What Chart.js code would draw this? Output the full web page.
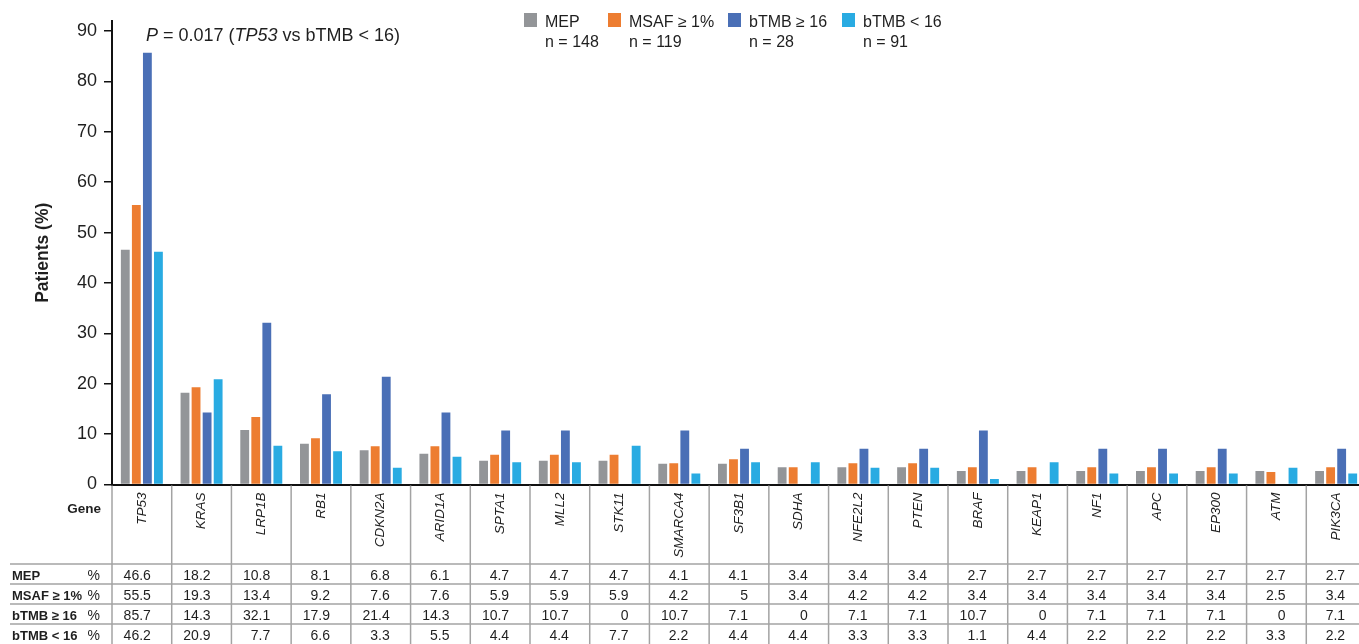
<!DOCTYPE html>
<html>
<head>
<meta charset="utf-8">
<script src="https://cdn.jsdelivr.net/npm/chart.js@4"></script>
<style>
  html, body { margin: 0; padding: 0; background: #fff; overflow: hidden; }
  canvas { display: block; }
</style>
</head>
<body>
<canvas id="geneChart" width="1366" height="644"></canvas>
<script>
const genes = ['TP53', 'KRAS', 'LRP1B', 'RB1', 'CDKN2A', 'ARID1A', 'SPTA1', 'MLL2', 'STK11', 'SMARCA4',
    'SF3B1', 'SDHA', 'NFE2L2', 'PTEN', 'BRAF', 'KEAP1', 'NF1', 'APC', 'EP300', 'ATM', 'PIK3CA'];

const mep      = [46.6, 18.2, 10.8, 8.1, 6.8, 6.1, 4.7, 4.7, 4.7, 4.1, 4.1, 3.4, 3.4, 3.4, 2.7, 2.7, 2.7, 2.7, 2.7, 2.7, 2.7];
const msaf     = [55.5, 19.3, 13.4, 9.2, 7.6, 7.6, 5.9, 5.9, 5.9, 4.2, 5, 3.4, 4.2, 4.2, 3.4, 3.4, 3.4, 3.4, 3.4, 2.5, 3.4];
const tmbHigh  = [85.7, 14.3, 32.1, 17.9, 21.4, 14.3, 10.7, 10.7, 0, 10.7, 7.1, 0, 7.1, 7.1, 10.7, 0, 7.1, 7.1, 7.1, 0, 7.1];
const tmbLow   = [46.2, 20.9, 7.7, 6.6, 3.3, 5.5, 4.4, 4.4, 7.7, 2.2, 4.4, 4.4, 3.3, 3.3, 1.1, 4.4, 2.2, 2.2, 2.2, 3.3, 2.2];

const seriesNames = ['MEP', 'MSAF \u2265 1%', 'bTMB \u2265 16', 'bTMB < 16'];
const seriesN     = ['n = 148', 'n = 119', 'n = 28', 'n = 91'];
const rowLabels   = ['MEP', 'MSAF \u2265 1%', 'bTMB \u2265 16', 'bTMB < 16'];
const yTicks      = [0, 10, 20, 30, 40, 50, 60, 70, 80, 90];

const colors = ['#939598', '#ED7D31', '#4A6FB6', '#29ABE2'];
const textColor = '#1f1f1f';
const FONT = '"Liberation Sans", Arial, sans-serif';

// legend with two-line labels, plus the p-value note
const headerPlugin = {
    id: 'header',
    afterDraw(chart) {
        const ctx = chart.ctx;
        const boxX = [524, 608, 728, 842];
        ctx.save();
        ctx.fillStyle = textColor;
        chart.data.datasets.forEach((ds, i) => {
            ctx.fillStyle = ds.backgroundColor;
            ctx.fillRect(boxX[i], 13, 13, 14);
            ctx.fillStyle = textColor;
            ctx.font = '16px ' + FONT;
            ctx.textAlign = 'left';
            ctx.textBaseline = 'alphabetic';
            ctx.fillText(ds.label, boxX[i] + 21, 27);
            ctx.fillText(seriesN[i], boxX[i] + 21, 47);
        });

        // P = 0.017 (TP53 vs bTMB < 16)
        const parts = [
            ['P', true], [' = 0.017 (', false], ['TP53', true], [' vs bTMB < 16)', false]
        ];
        let x = 146;
        parts.forEach(([txt, italic]) => {
            ctx.font = (italic ? 'italic ' : '') + '18px ' + FONT;
            ctx.fillText(txt, x, 41);
            x += ctx.measureText(txt).width;
        });
        ctx.restore();
    }
};

// data table under the x axis, columns follow the category scale
const tablePlugin = {
    id: 'geneTable',
    afterDraw(chart) {
        const ctx = chart.ctx;
        const xs = chart.scales.x;
        const area = chart.chartArea;
        const colW = (area.right - area.left) / genes.length;
        const firstRow = area.bottom + 79.5;
        const rowH = 20;
        const rows = [mep, msaf, tmbHigh, tmbLow];

        ctx.save();
        ctx.strokeStyle = '#a3a3a3';
        ctx.lineWidth = 1.5;
        for (let r = 0; r < rows.length; r++) {
            const y = firstRow + r * rowH;
            ctx.beginPath();
            ctx.moveTo(10, y);
            ctx.lineTo(chart.width, y);
            ctx.stroke();
        }
        for (let i = 0; i < genes.length; i++) {
            const gx = xs.getPixelForTick(i) - colW / 2;
            ctx.beginPath();
            ctx.moveTo(gx, area.bottom + 1);
            ctx.lineTo(gx, chart.height);
            ctx.stroke();
        }

        ctx.fillStyle = textColor;
        ctx.textBaseline = 'alphabetic';
        ctx.font = 'bold 13.5px ' + FONT;
        ctx.textAlign = 'right';
        ctx.fillText('Gene', 101, area.bottom + 28.5);

        rows.forEach((vals, r) => {
            const base = firstRow + r * rowH + 15.5;
            ctx.font = 'bold 13px ' + FONT;
            ctx.textAlign = 'left';
            ctx.fillText(rowLabels[r], 12, base);
            ctx.font = '14px ' + FONT;
            ctx.textAlign = 'right';
            ctx.fillText('%', 100, base);
            vals.forEach((v, i) => {
                ctx.fillText(String(v), xs.getPixelForTick(i) + 9, base);
            });
        });
        ctx.restore();
    }
};

const ctx = document.getElementById('geneChart').getContext('2d');
new Chart(ctx, {
    type: 'bar',
    data: {
        labels: genes,
        datasets: [mep, msaf, tmbHigh, tmbLow].map((d, i) => ({
            label: seriesNames[i],
            data: d,
            backgroundColor: colors[i],
            borderWidth: 0,
            categoryPercentage: 0.74,
            barPercentage: 0.8
        }))
    },
    options: {
        responsive: false,
        animation: false,
        devicePixelRatio: 1,
        layout: { padding: { top: 21, left: 0, right: 0, bottom: 0 } },
        plugins: {
            legend: { display: false },
            tooltip: { enabled: false }
        },
        scales: {
            x: {
                grid: { drawOnChartArea: false, drawTicks: false },
                border: { display: true, color: '#111', width: 2 },
                ticks: {
                    autoSkip: false,
                    minRotation: 90,
                    maxRotation: 90,
                    padding: 8,
                    color: textColor,
                    font: { family: FONT, size: 13.5, style: 'italic' }
                },
                afterFit(scale) { scale.height = 159.5; }
            },
            y: {
                min: 0,
                max: 92,
                grid: { drawOnChartArea: false, drawTicks: true, tickLength: 8, color: '#111', lineWidth: 1.5 },
                border: { display: true, color: '#111', width: 2 },
                ticks: {
                    stepSize: 10,
                    padding: 7,
                    color: textColor,
                    font: { family: FONT, size: 18 }
                },
                title: {
                    display: true,
                    text: 'Patients (%)',
                    color: textColor,
                    padding: { top: 33, bottom: 0 },
                    font: { family: FONT, size: 17.5, weight: 'bold' }
                },
                afterBuildTicks(scale) {
                    scale.ticks = yTicks.map(v => ({ value: v }));
                },
                afterFit(scale) { scale.width = 112; }
            }
        }
    },
    plugins: [headerPlugin, tablePlugin]
});
</script>
</body>
</html>
